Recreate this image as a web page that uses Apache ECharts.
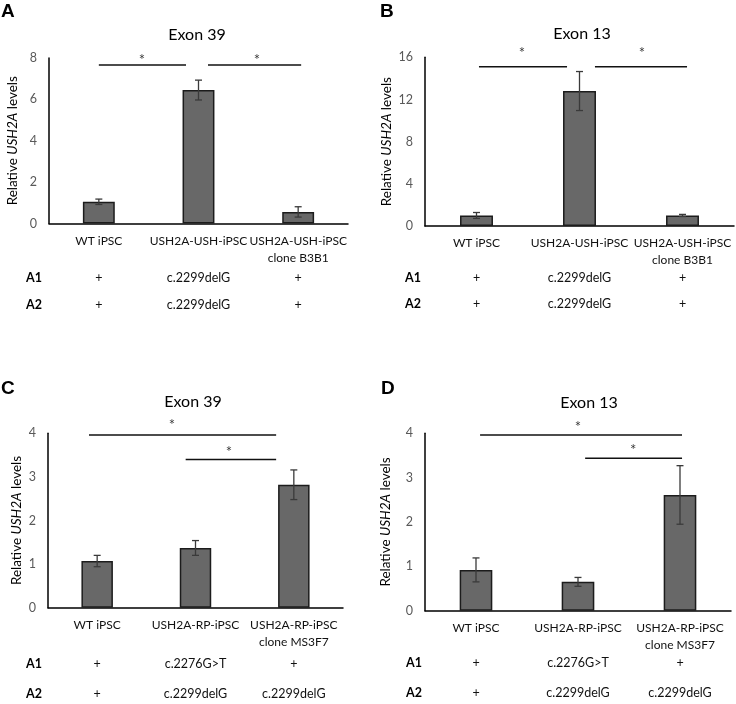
<!DOCTYPE html>
<html>
<head>
<meta charset="utf-8">
<script src="https://cdn.jsdelivr.net/npm/echarts@6/dist/echarts.min.js"></script>
<style>
html,body{margin:0;padding:0;background:#fff;}
#main{width:736px;height:704px;}
</style>
</head>
<body>
<div id="main"></div>
<script>
// ---- data ----
const categoriesTop = ['WT iPSC', 'USH2A-USH-iPSC', 'USH2A-USH-iPSC\nclone B3B1'];
const categoriesBottom = ['WT iPSC', 'USH2A-RP-iPSC', 'USH2A-RP-iPSC\nclone MS3F7'];
const a1Top = ['+', 'c.2299delG', '+'];
const a2Top = ['+', 'c.2299delG', '+'];
const a1Bottom = ['+', 'c.2276G>T', '+'];
const a2Bottom = ['+', 'c.2299delG', 'c.2299delG'];

const titles = ['Exon 39', 'Exon 13', 'Exon 39', 'Exon 13'];
const panelLetters = ['A', 'B', 'C', 'D'];

const valuesA = [1.05, 6.45, 0.56];
const errorsA = [0.13, 0.48, 0.25];
const valuesB = [1.0, 12.8, 1.0];
const errorsB = [0.28, 1.85, 0.10];
const valuesC = [1.07, 1.37, 2.82];
const errorsC = [0.13, 0.17, 0.34];
const valuesD = [0.92, 0.65, 2.61];
const errorsD = [0.27, 0.10, 0.66];

const yMaxes = [8, 16, 4, 4];
const yIntervals = [2, 4, 1, 1];

// significance brackets: [xStart, xEnd, y] in category-index units (0..3)
const sigA = [[0.50, 1.375, 7.66], [1.595, 2.53, 7.66]];
const sigB = [[0.524, 1.379, 15.1], [1.65, 2.544, 15.1]];
const sigC = [[0.417, 2.32, 3.96], [1.40, 2.32, 3.40]];
const sigD = [[0.54, 2.52, 3.96], [1.57, 2.52, 3.44]];
// star positions [x, y]
const starsA = [[0.933, 8.06], [2.087, 8.06]];
const starsB = [[0.942, 16.7], [2.107, 16.7]];
const starsC = [[1.26, 4.26], [1.84, 3.64]];
const starsD = [[1.50, 4.21], [2.04, 3.69]];

// ---- layout / style ----
const FONT = 'Lato, "Open Sans", sans-serif';
const grids = [
  {left: 49, top: 58, width: 299, height: 165.5},
  {left: 425, top: 57.3, width: 309, height: 168.7},
  {left: 48, top: 433.3, width: 295, height: 174.4},
  {left: 425, top: 433.3, width: 306, height: 177.4}
];
const panels = [
  {cats: categoriesTop, a1: a1Top, a2: a2Top, v: valuesA, e: errorsA, sig: sigA, stars: starsA, nameGap: 29},
  {cats: categoriesTop, a1: a1Top, a2: a2Top, v: valuesB, e: errorsB, sig: sigB, stars: starsB, nameGap: 31},
  {cats: categoriesBottom, a1: a1Bottom, a2: a2Bottom, v: valuesC, e: errorsC, sig: sigC, stars: starsC, nameGap: 24},
  {cats: categoriesBottom, a1: a1Bottom, a2: a2Bottom, v: valuesD, e: errorsD, sig: sigD, stars: starsD, nameGap: 32}
];
// row label centre offsets (px below the axis line) for A1 / A2 rows
const rowOffsets = [[54, 81], [52, 78], [56.6, 86.6], [52.3, 82.3]];
const titlePos = [[192, 22], [577, 21], [188, 389], [584, 390]];
const letterPos = [[1, 2], [380, 2], [1, 379], [381, 379]];
const rowLabelX = [34, 413, 34, 414];

const xAxes = [], yAxes = [], series = [], titleArr = [], graphics = [];

panels.forEach((p, i) => {
  const g = grids[i];
  const base = xAxes.length;
  xAxes.push({
    type: 'category', gridIndex: i, data: p.cats, position: 'bottom',
    axisLine: {lineStyle: {color: '#000', width: 1.5}},
    axisTick: {show: false},
    axisLabel: {color: '#111', fontFamily: FONT, fontSize: 12, lineHeight: 17, margin: 9, interval: 0}
  });
  [p.a1, p.a2].forEach((row, r) => {
    xAxes.push({
      type: 'category', gridIndex: i, data: row, position: 'bottom',
      offset: rowOffsets[i][r] - 8,
      axisLine: {show: false}, axisTick: {show: false},
      axisLabel: {color: '#111', fontFamily: FONT, fontSize: 12.5, lineHeight: 16, margin: 0, interval: 0}
    });
    graphics.push({
      type: 'text',
      style: {text: 'A' + (r + 1), x: rowLabelX[i], y: g.top + g.height + rowOffsets[i][r],
        align: 'center', verticalAlign: 'middle', font: 'bold 12.5px ' + FONT, fill: '#000'}
    });
  });
  xAxes.push({type: 'value', gridIndex: i, min: 0, max: 3, show: false});
  const hidX = base + 3;

  yAxes.push({
    type: 'value', gridIndex: i, min: 0, max: yMaxes[i], interval: yIntervals[i],
    axisLine: {show: true, lineStyle: {color: '#000', width: 1.5}},
    axisTick: {show: false},
    splitLine: {show: false},
    axisLabel: {color: '#595959', fontFamily: FONT, fontSize: 12.5, margin: 12},
    name: '{n|Relative }{i|USH2A}{n| levels}',
    nameLocation: 'middle', nameRotate: 90, nameGap: p.nameGap,
    nameTextStyle: {
      rich: {
        n: {fontFamily: FONT, fontSize: 13.5, color: '#000'},
        i: {fontFamily: FONT, fontSize: 13.5, color: '#000', fontStyle: 'italic'}
      }
    }
  });

  series.push({
    type: 'bar', xAxisIndex: base, yAxisIndex: i, data: p.v, barWidth: '32%', z: 2,
    itemStyle: {color: '#686868', borderColor: '#1c1c1c', borderWidth: 1.5},
    silent: true, animation: false
  });
  series.push({
    type: 'custom', xAxisIndex: base, yAxisIndex: i, animation: false, silent: true, z: 5,
    data: p.v.map((v, k) => [k, v - p.e[k], v + p.e[k]]),
    renderItem: function (params, api) {
      const lo = api.coord([api.value(0), api.value(1)]);
      const hi = api.coord([api.value(0), api.value(2)]);
      const x = lo[0], w = 3.5;
      const st = {stroke: '#3a3a3a', lineWidth: 1.3};
      return {type: 'group', children: [
        {type: 'line', shape: {x1: x, y1: lo[1], x2: x, y2: hi[1]}, style: st},
        {type: 'line', shape: {x1: x - w, y1: lo[1], x2: x + w, y2: lo[1]}, style: st},
        {type: 'line', shape: {x1: x - w, y1: hi[1], x2: x + w, y2: hi[1]}, style: st}
      ]};
    }
  });
  p.sig.forEach(s => {
    series.push({
      type: 'line', xAxisIndex: hidX, yAxisIndex: i, data: [[s[0], s[2]], [s[1], s[2]]],
      symbol: 'none', lineStyle: {color: '#111', width: 1.5}, clip: false, animation: false, silent: true
    });
  });
  series.push({
    type: 'scatter', xAxisIndex: hidX, yAxisIndex: i, data: p.stars, symbolSize: 0, clip: false,
    animation: false, silent: true,
    label: {show: true, position: 'inside', formatter: '*', fontFamily: FONT, fontSize: 15, color: '#000', offset: [0, 3]}
  });

  titleArr.push({
    text: titles[i], left: titlePos[i][0], top: titlePos[i][1], textAlign: 'center',
    textStyle: {fontFamily: FONT, fontSize: 16, fontWeight: 'normal', color: '#000'}
  });
  graphics.push({
    type: 'text',
    style: {text: panelLetters[i], x: letterPos[i][0], y: letterPos[i][1], font: 'bold 19px "Liberation Sans", Arial, sans-serif', fill: '#000'}
  });
});

const chart = echarts.init(document.getElementById('main'), null, {renderer: 'canvas'});
chart.setOption({
  animation: false,
  backgroundColor: '#fff',
  title: titleArr,
  grid: grids,
  xAxis: xAxes,
  yAxis: yAxes,
  series: series,
  graphic: graphics
});
</script>
</body>
</html>
